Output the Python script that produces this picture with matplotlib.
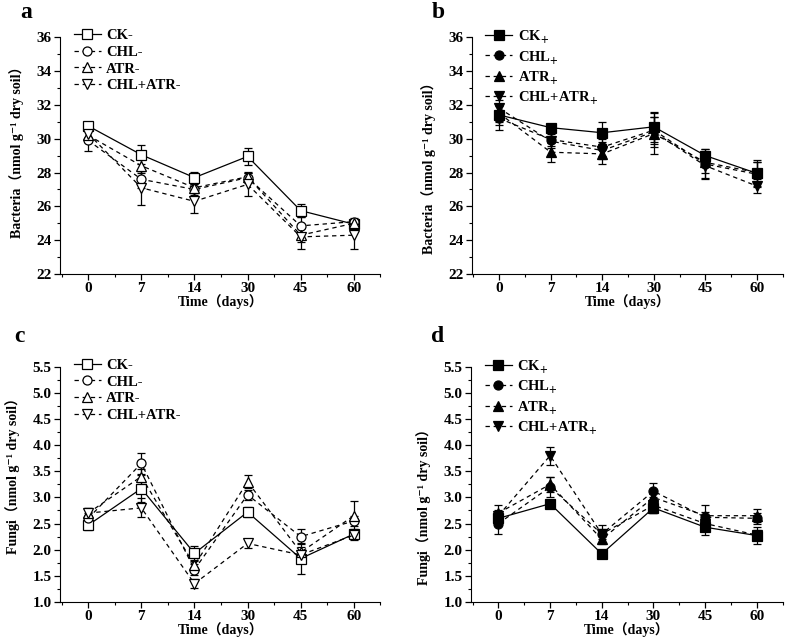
#-----------------------------------------------
# Soil bacteria / fungi PLFA over time (4 panels)
#-----------------------------------------------
import numpy as np
import matplotlib.pyplot as plt
from matplotlib.ticker import MultipleLocator

plt.rcParams['font.family'] = ['Liberation Serif', 'Noto Sans CJK SC', 'DejaVu Serif']
plt.rcParams['font.weight'] = 'bold'
plt.rcParams['mathtext.fontset'] = 'stix'

#-----------------------------------------------
# data
#-----------------------------------------------
days = ['0', '7', '14', '30', '45', '60']

# panel a : bacteria, without (-)
bac_ck_m = [30.75, 29.05, 27.7, 28.95, 25.75, 24.95]
bac_chl_m = [29.9, 27.6, 27.0, 27.7, 24.85, 25.1]
bac_atr_m = [30.2, 28.4, 27.1, 27.75, 24.3, 25.0]
bac_mix_m = [30.3, 27.1, 26.3, 27.3, 24.2, 24.3]
bac_ck_m_err = [0.2, 0.55, 0.35, 0.5, 0.4, 0.2]
bac_chl_m_err = [0.6, 0.5, 0.3, 0.3, 0.5, 0.2]
bac_atr_m_err = [0.3, 0.4, 0.3, 0.3, 0.4, 0.2]
bac_mix_m_err = [0.4, 1.0, 0.7, 0.7, 0.7, 0.8]

# panel b : bacteria, with (+)
bac_ck_p = [31.4, 30.65, 30.35, 30.7, 29.0, 27.95]
bac_chl_p = [31.2, 29.95, 29.5, 30.5, 28.5, 27.9]
bac_atr_p = [31.5, 29.2, 29.1, 30.3, 28.6, 28.0]
bac_mix_p = [31.8, 29.85, 29.3, 30.4, 28.4, 27.2]
bac_ck_p_err = [0.6, 0.2, 0.65, 0.9, 0.4, 0.8]
bac_chl_p_err = [0.7, 0.4, 0.5, 0.8, 0.9, 0.7]
bac_atr_p_err = [0.5, 0.55, 0.6, 1.2, 0.6, 0.6]
bac_mix_p_err = [0.5, 0.4, 0.5, 0.9, 0.7, 0.4]

# panel c : fungi, without (-)
fun_ck_m = [2.47, 3.17, 1.93, 2.72, 1.83, 2.3]
fun_chl_m = [2.6, 3.65, 1.62, 3.05, 2.25, 2.55]
fun_atr_m = [2.7, 3.4, 1.7, 3.3, 1.95, 2.65]
fun_mix_m = [2.7, 2.8, 1.35, 2.12, 1.9, 2.28]
fun_ck_m_err = [0.1, 0.25, 0.15, 0.1, 0.3, 0.1]
fun_chl_m_err = [0.1, 0.2, 0.1, 0.1, 0.15, 0.1]
fun_atr_m_err = [0.1, 0.15, 0.1, 0.12, 0.1, 0.28]
fun_mix_m_err = [0.1, 0.18, 0.08, 0.08, 0.1, 0.1]

# panel d : fungi, with (+)
fun_ck_p = [2.6, 2.88, 1.92, 2.8, 2.43, 2.27]
fun_chl_p = [2.5, 3.2, 2.3, 3.12, 2.62, 2.6]
fun_atr_p = [2.7, 3.25, 2.2, 3.0, 2.65, 2.65]
fun_mix_p = [2.65, 3.8, 2.3, 2.85, 2.5, 2.28]
fun_ck_p_err = [0.1, 0.05, 0.03, 0.1, 0.15, 0.17]
fun_chl_p_err = [0.2, 0.2, 0.1, 0.15, 0.1, 0.1]
fun_atr_p_err = [0.15, 0.15, 0.1, 0.1, 0.2, 0.12]
fun_mix_p_err = [0.1, 0.17, 0.17, 0.15, 0.1, 0.1]

names_m = ['CK-', 'CHL-', 'ATR-', 'CHL+ATR-']
names_p = [r'CK$_{\mathbf{+}}$', r'CHL$_{\mathbf{+}}$', r'ATR$_{\mathbf{+}}$', r'CHL+ATR$_{\mathbf{+}}$']
markers = ['s', 'o', '^', 'v']
styles = ['-', (0, (3.5, 3)), (0, (3.5, 3)), (0, (3.5, 3))]

bac_label = 'Bacteria（nmol g⁻¹ dry soil）'
fun_label = 'Fungi（nmol g⁻¹ dry soil）'

#-----------------------------------------------
# figure
#-----------------------------------------------
fig = plt.figure(figsize=(7.93, 6.39), dpi=100)

# rect, letter, series, errors, names, filled, ylim, major, minor, ylabel, letter pos, ylabel y
panels = [
    ([0.0757, 0.571, 0.404, 0.371], 'a', [bac_ck_m, bac_chl_m, bac_atr_m, bac_mix_m],
     [bac_ck_m_err, bac_chl_m_err, bac_atr_m_err, bac_mix_m_err], names_m, False,
     (22, 36), 2, 1, bac_label, (0.025, 0.997), 0.53),
    ([0.595, 0.571, 0.392, 0.371], 'b', [bac_ck_p, bac_chl_p, bac_atr_p, bac_mix_p],
     [bac_ck_p_err, bac_chl_p_err, bac_atr_p_err, bac_mix_p_err], names_p, True,
     (22, 36), 2, 1, bac_label, (0.545, 0.997), 0.46),
    ([0.0757, 0.058, 0.404, 0.368], 'c', [fun_ck_m, fun_chl_m, fun_atr_m, fun_mix_m],
     [fun_ck_m_err, fun_chl_m_err, fun_atr_m_err, fun_mix_m_err], names_m, False,
     (1.0, 5.5), 0.5, 0.25, fun_label, (0.018, 0.49), 0.55),
    ([0.594, 0.058, 0.393, 0.368], 'd', [fun_ck_p, fun_chl_p, fun_atr_p, fun_mix_p],
     [fun_ck_p_err, fun_chl_p_err, fun_atr_p_err, fun_mix_p_err], names_p, True,
     (1.0, 5.5), 0.5, 0.25, fun_label, (0.543, 0.49), 0.42),
]

x = np.arange(len(days))

for rect, letter, series, errs, names, filled, ylim, major, minor, ylabel, lpos, ly in panels:
    ax = fig.add_axes(rect)
    handles = []
    for i in range(4):
        c = ax.errorbar(x, series[i], yerr=errs[i], color='black', linestyle=styles[i],
                        linewidth=0.9, marker=markers[i], markersize=6.5,
                        markerfacecolor='black' if filled else 'white',
                        markeredgecolor='black', markeredgewidth=0.9,
                        ecolor='black', elinewidth=0.9, capsize=3, capthick=0.9)
        handles.append(c.lines[0])
    ax.set_xlim(-0.53, 5.5)
    ax.set_ylim(*ylim)
    ax.set_xticks(x)
    ax.set_xticklabels(days)
    ax.xaxis.set_minor_locator(MultipleLocator(0.5))
    ax.yaxis.set_major_locator(MultipleLocator(major))
    ax.yaxis.set_minor_locator(MultipleLocator(minor))
    if major < 1:
        ax.yaxis.set_major_formatter(plt.FormatStrFormatter('%.1f'))
    ax.spines['top'].set_visible(False)
    ax.spines['right'].set_visible(False)
    ax.tick_params(which='major', length=4, width=0.9, labelsize=11, pad=2)
    ax.tick_params(which='minor', length=2, width=0.8)
    for lab in ax.get_xticklabels() + ax.get_yticklabels():
        lab.set_fontweight('bold')
    ax.set_xlabel('Time（days）', fontsize=10, fontweight='bold', labelpad=-1)
    ax.set_ylabel(ylabel, fontsize=10, fontweight='bold', labelpad=9)
    ax.yaxis.label.set_y(ly)
    leg = ax.legend(handles, names, loc='upper left', frameon=False, fontsize=10.5,
                    handlelength=1.85, borderaxespad=0.0, labelspacing=0.25,
                    handletextpad=0.35, bbox_to_anchor=(0.025, 1.06))
    for t in leg.get_texts():
        t.set_fontweight('bold')
    fig.text(lpos[0], lpos[1], letter, fontsize=17, fontweight='bold', va='top')

plt.savefig('out.png', dpi=100)
